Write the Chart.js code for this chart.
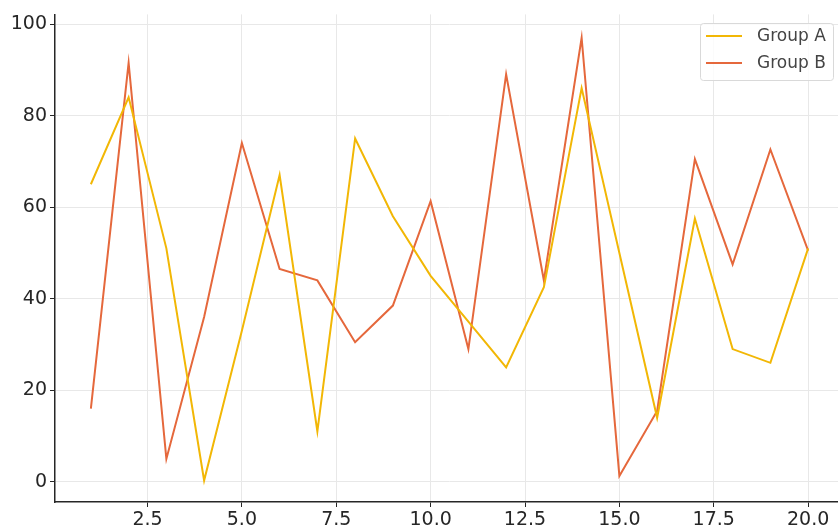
<!DOCTYPE html>
<html>
<head>
<meta charset="utf-8">
<script src="https://cdn.jsdelivr.net/npm/chart.js@4.4.1/dist/chart.umd.min.js"></script>
<style>
  html, body { margin: 0; padding: 0; background: #ffffff; overflow: hidden; }
  #wrap { position: relative; width: 860px; height: 526px; }
</style>
</head>
<body>
<div id="wrap"><canvas id="c" width="860" height="526"></canvas></div>
<script>
const xValues = [1,2,3,4,5,6,7,8,9,10,11,12,13,14,15,16,17,18,19,20];
const groupA = [65,84,51,0.3,33,67,11,75,58,45,35,25,42.5,86,50,14,57.5,29,26,51];
const groupB = [16,91.5,5,36,74,46.5,44,30.5,38.5,61.3,29,89,44,97,1.3,15.5,70.5,47.5,72.6,50.5];
const xTicks = [2.5,5,7.5,10,12.5,15,17.5,20];
const yTicks = [0,20,40,60,80,100];
const seriesLabels = ['Group A','Group B'];
const seriesColors = ['#F2B705','#E5683C'];

const legendPlugin = {
  id: 'boxLegend',
  afterDatasetsDraw(chart) {
    const ctx = chart.ctx;
    const x0 = 700, y0 = 23, w = 133, h = 57;
    ctx.save();
    ctx.beginPath();
    if (ctx.roundRect) ctx.roundRect(x0 + 0.5, y0 + 0.5, w, h, 3); else ctx.rect(x0 + 0.5, y0 + 0.5, w, h);
    ctx.fillStyle = 'rgba(255,255,255,0.8)';
    ctx.fill();
    ctx.strokeStyle = '#d9d9d9';
    ctx.lineWidth = 1;
    ctx.stroke();
    chart.data.datasets.forEach((ds, i) => {
      const yy = 36 + i * 27;
      ctx.beginPath();
      ctx.moveTo(706, yy);
      ctx.lineTo(742, yy);
      ctx.strokeStyle = ds.borderColor;
      ctx.lineWidth = 2;
      ctx.stroke();
      ctx.fillStyle = '#444444';
      ctx.font = '17px "DejaVu Sans"';
      ctx.textAlign = 'left';
      ctx.textBaseline = 'middle';
      ctx.fillText(ds.label, 757, yy + 1);
    });
    ctx.restore();
  }
};

new Chart(document.getElementById('c'), {
  type: 'line',
  data: {
    datasets: [
      { label: seriesLabels[0], data: xValues.map((x, i) => ({x, y: groupA[i]})), borderColor: seriesColors[0], backgroundColor: seriesColors[0], borderWidth: 2, pointRadius: 0, tension: 0 },
      { label: seriesLabels[1], data: xValues.map((x, i) => ({x, y: groupB[i]})), borderColor: seriesColors[1], backgroundColor: seriesColors[1], borderWidth: 2, pointRadius: 0, tension: 0 }
    ]
  },
  options: {
    responsive: false,
    animation: false,
    devicePixelRatio: 1,
    layout: { padding: { top: 13, right: 16, left: 0, bottom: 0 } },
    plugins: { legend: { display: false }, tooltip: { enabled: false } },
    scales: {
      x: {
        type: 'linear',
        min: 0.05,
        max: 20.95,
        afterBuildTicks: s => { s.ticks = xTicks.map(v => ({ value: v })); },
        afterFit: s => { s.height = 24; },
        ticks: {
          callback: v => Number(v).toFixed(1),
          color: '#262626',
          font: { family: 'DejaVu Sans', size: 19 },
          padding: 2,
          maxRotation: 0,
          autoSkip: false
        },
        grid: { color: '#e8e8e8', lineWidth: 1, tickLength: 5, tickColor: '#262626', drawTicks: true },
        border: { color: '#262626', width: 1.5 }
      },
      y: {
        type: 'linear',
        min: -4.4,
        max: 102.1,
        afterBuildTicks: s => { s.ticks = yTicks.map(v => ({ value: v })); },
        afterFit: s => { s.width = 55; },
        ticks: {
          color: '#262626',
          font: { family: 'DejaVu Sans', size: 19 },
          padding: 3
        },
        grid: { color: '#e8e8e8', lineWidth: 1, tickLength: 5, tickColor: '#262626', drawTicks: true },
        border: { color: '#262626', width: 1.5 }
      }
    }
  },
  plugins: [legendPlugin]
});
</script>
</body>
</html>
